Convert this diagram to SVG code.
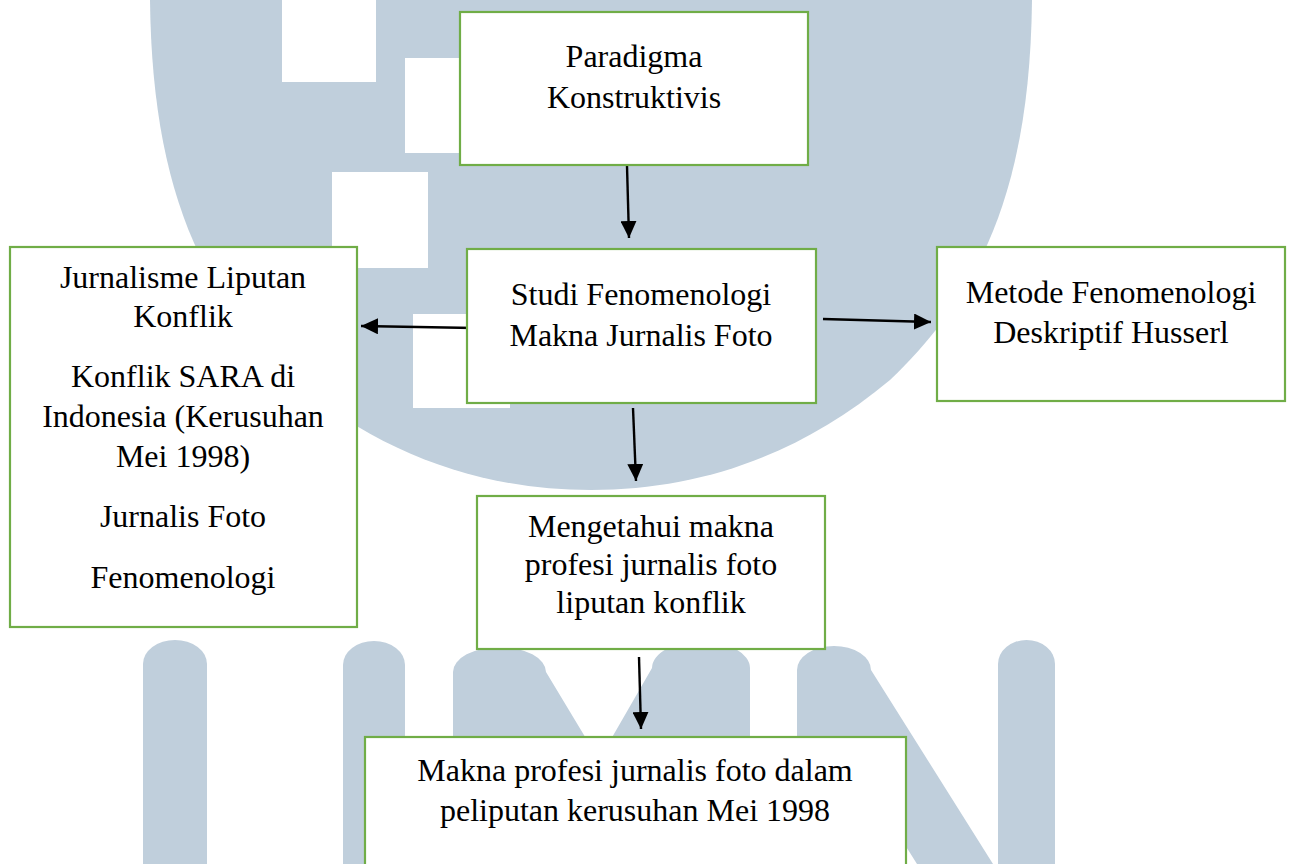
<svg xmlns="http://www.w3.org/2000/svg" width="1290" height="864" viewBox="0 0 1290 864">
  <style>
    .wm { fill: #c0cfdc; }
    .hole { fill: #ffffff; }
    .box { fill: #ffffff; stroke: #70ad47; stroke-width: 2.2; }
    .t { font-family: "Liberation Serif", "Times New Roman", serif; font-size: 32px; fill: #000000; text-anchor: middle; }
    .edge { stroke: #000000; stroke-width: 2.4; fill: none; marker-end: url(#arrow); }
  </style>
  <defs>
    <marker id="arrow" markerUnits="userSpaceOnUse" markerWidth="17" markerHeight="16" refX="17" refY="8" orient="auto">
      <path d="M0,0 L17,8 L0,16 Z" fill="#000000"/>
    </marker>
  </defs>
  <rect x="0" y="0" width="1290" height="864" fill="#ffffff"/>

  <g id="watermark">
    <path class="wm" d="M150,0 L1032,0 C1030,180 985,290 890,380 C800,455 700,490 591,490 C482,490 382,455 292,380 C197,290 152,180 150,0 Z"/>
    <rect class="hole" x="282" y="0" width="94" height="82"/>
    <rect class="hole" x="405" y="58" width="100" height="95"/>
    <rect class="hole" x="332" y="172" width="96" height="96"/>
    <rect class="hole" x="413" y="314" width="97" height="94"/>
    <path class="wm" d="M143,864 V664 A32,24 0 0 1 207,664 V864 Z"/>
    <path class="wm" d="M343,864 V665 A31,24 0 0 1 405,665 V864 Z"/>
    <path class="wm" d="M453,780 V672 A46.5,25 0 0 1 546,672 L599,760 L652,668 A49,27 0 0 1 750,668 V780 Z"/>
    <path class="wm" d="M797,864 V670 A37,24 0 0 1 871,670 L993,864 L917,864 L861,775 L861,864 Z"/>
    <path class="wm" d="M998,864 V664 A28.5,24 0 0 1 1055,664 V864 Z"/>
  </g>

  <g id="connectors">
    <line class="edge" x1="627" y1="166" x2="629" y2="238"/>
    <line class="edge" x1="474" y1="328" x2="361" y2="326"/>
    <line class="edge" x1="823" y1="319" x2="931" y2="322"/>
    <line class="edge" x1="633" y1="408" x2="636" y2="481"/>
    <line class="edge" x1="639" y1="657" x2="641" y2="729"/>
  </g>

  <g id="paradigma">
    <rect class="box" x="460" y="12" width="348" height="153"/>
    <text class="t" x="634" y="67">Paradigma</text>
    <text class="t" x="634" y="108">Konstruktivis</text>
  </g>

  <g id="tinjauan">
    <rect class="box" x="10" y="247" width="347" height="380"/>
    <text class="t" x="183" y="288">Jurnalisme Liputan</text>
    <text class="t" x="183" y="327">Konflik</text>
    <text class="t" x="183" y="387">Konflik SARA di</text>
    <text class="t" x="183" y="427">Indonesia (Kerusuhan</text>
    <text class="t" x="183" y="467">Mei 1998)</text>
    <text class="t" x="183" y="527">Jurnalis Foto</text>
    <text class="t" x="183" y="588">Fenomenologi</text>
  </g>

  <g id="studi">
    <rect class="box" x="467" y="249" width="349" height="154"/>
    <text class="t" x="641" y="305">Studi Fenomenologi</text>
    <text class="t" x="641" y="346">Makna Jurnalis Foto</text>
  </g>

  <g id="metode">
    <rect class="box" x="937" y="247" width="348" height="154"/>
    <text class="t" x="1111" y="303">Metode Fenomenologi</text>
    <text class="t" x="1111" y="343">Deskriptif Husserl</text>
  </g>

  <g id="tujuan">
    <rect class="box" x="477" y="496" width="348" height="153"/>
    <text class="t" x="651" y="537">Mengetahui makna</text>
    <text class="t" x="651" y="575">profesi jurnalis foto</text>
    <text class="t" x="651" y="613">liputan konflik</text>
  </g>

  <g id="hasil">
    <rect class="box" x="365" y="737" width="541" height="160"/>
    <text class="t" x="635" y="781">Makna profesi jurnalis foto dalam</text>
    <text class="t" x="635" y="821">peliputan kerusuhan Mei 1998</text>
  </g>
</svg>
